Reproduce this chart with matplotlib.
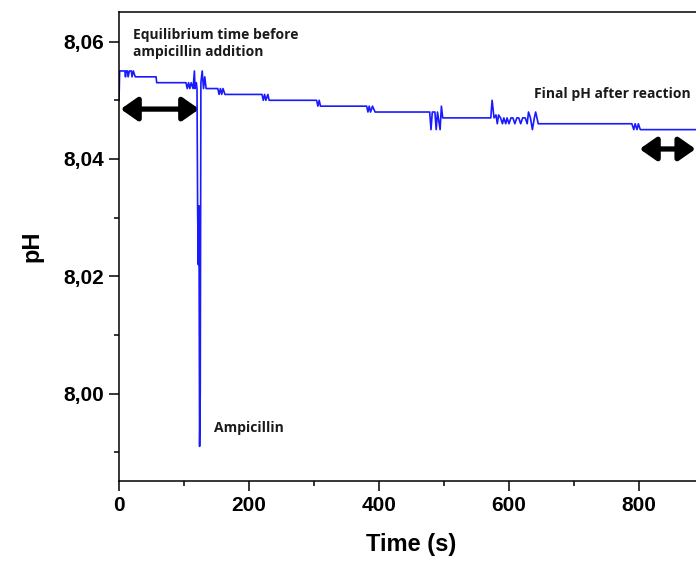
import matplotlib
matplotlib.use("Agg")
import matplotlib.pyplot as plt
from matplotlib.ticker import FuncFormatter, MultipleLocator
from matplotlib.patches import FancyArrowPatch

# pH readings over time
time_s = [0, 1, 9, 10, 11, 13, 14, 16, 19, 20, 22, 25, 57, 58, 103, 105, 107,
          109, 111, 114, 116, 117, 119, 120, 121, 122, 123, 124, 125, 126, 128,
          130, 132, 134, 152, 154, 156, 158, 160, 163, 220, 222, 224, 226, 229,
          231, 235, 304, 306, 308, 310, 312, 381, 383, 385, 387, 390, 394, 478,
          480, 482, 486, 488, 490, 494, 496, 498, 502, 569, 572, 574, 577, 580,
          582, 584, 587, 590, 592, 595, 597, 600, 603, 606, 609, 612, 615, 618,
          621, 625, 628, 630, 633, 636, 639, 641, 645, 789, 792, 794, 797, 799,
          802, 805, 900]
ph = [8.050, 8.055, 8.055, 8.054, 8.055, 8.055, 8.054, 8.055, 8.055, 8.054,
      8.055, 8.054, 8.054, 8.053, 8.053, 8.052, 8.053, 8.052, 8.053, 8.052,
      8.055, 8.052, 8.053, 8.052, 8.031, 8.022, 8.032, 7.991, 8.000, 8.053,
      8.055, 8.052, 8.054, 8.052, 8.052, 8.051, 8.052, 8.051, 8.052, 8.051,
      8.051, 8.050, 8.051, 8.050, 8.051, 8.050, 8.050, 8.050, 8.049, 8.050,
      8.049, 8.049, 8.049, 8.048, 8.049, 8.048, 8.049, 8.048, 8.048, 8.045,
      8.048, 8.048, 8.045, 8.048, 8.045, 8.049, 8.047, 8.047, 8.047, 8.047,
      8.050, 8.047, 8.0475, 8.046, 8.0475, 8.047, 8.046, 8.047, 8.046, 8.047,
      8.046, 8.047, 8.047, 8.046, 8.047, 8.047, 8.046, 8.047, 8.047, 8.046,
      8.048, 8.047, 8.045, 8.047, 8.048, 8.046, 8.046, 8.045, 8.046, 8.045,
      8.046, 8.045, 8.045, 8.045]

eq_arrow = (2.6, 123.5, 8.0485)
final_arrow = (801, 887, 8.0417)


def main():
    plt.rcParams["font.family"] = ["Liberation Sans", "DejaVu Sans"]
    plt.rcParams["font.weight"] = "bold"

    fig = plt.figure(figsize=(6.96, 5.61), dpi=100)
    ax = fig.add_axes([119 / 696, 80 / 561, 585 / 696, 468.7 / 561])

    ax.plot(time_s, ph, color="#1a1aff", lw=1.2)

    ax.set_xlim(0, 900)
    ax.set_ylim(7.9851, 8.0650)
    ax.xaxis.set_major_locator(MultipleLocator(200))
    ax.xaxis.set_minor_locator(MultipleLocator(100))
    ax.yaxis.set_major_locator(MultipleLocator(0.02))
    ax.yaxis.set_minor_locator(MultipleLocator(0.01))
    ax.yaxis.set_major_formatter(FuncFormatter(lambda v, p: f"{v:.2f}".replace(".", ",")))
    ax.tick_params(which="major", direction="out", length=7, width=1.1, pad=4, labelsize=15)
    ax.tick_params(which="minor", direction="out", length=3.5, width=1.1)
    for sp in ax.spines.values():
        sp.set_linewidth(1.1)

    ax.set_xlabel("Time (s)", fontsize=17, fontweight="bold", labelpad=13)
    ax.set_ylabel("pH", fontsize=17, fontweight="bold", labelpad=14)

    for x0, x1, y in (eq_arrow, final_arrow):
        arr = FancyArrowPatch((x0, y), (x1, y), arrowstyle="<|-|>,head_length=0.5,head_width=0.35",
                              mutation_scale=20, lw=3.8, color="black", shrinkA=0, shrinkB=0)
        ax.add_patch(arr)

    tkw = dict(fontsize=10, fontweight="bold", family=["Open Sans", "DejaVu Sans"], color="#1a1a1a")
    ax.text(21.5, 8.0597, "Equilibrium time before\nampicillin addition", va="center", ha="left",
            linespacing=1.3, **tkw)
    ax.text(638.5, 8.0510, "Final pH after reaction", va="center", ha="left", **tkw)
    ax.text(146, 7.9942, "Ampicillin", va="center", ha="left", **tkw)

    fig.savefig("out.png", dpi=100)
    return 0


if __name__ == "__main__":
    main()
